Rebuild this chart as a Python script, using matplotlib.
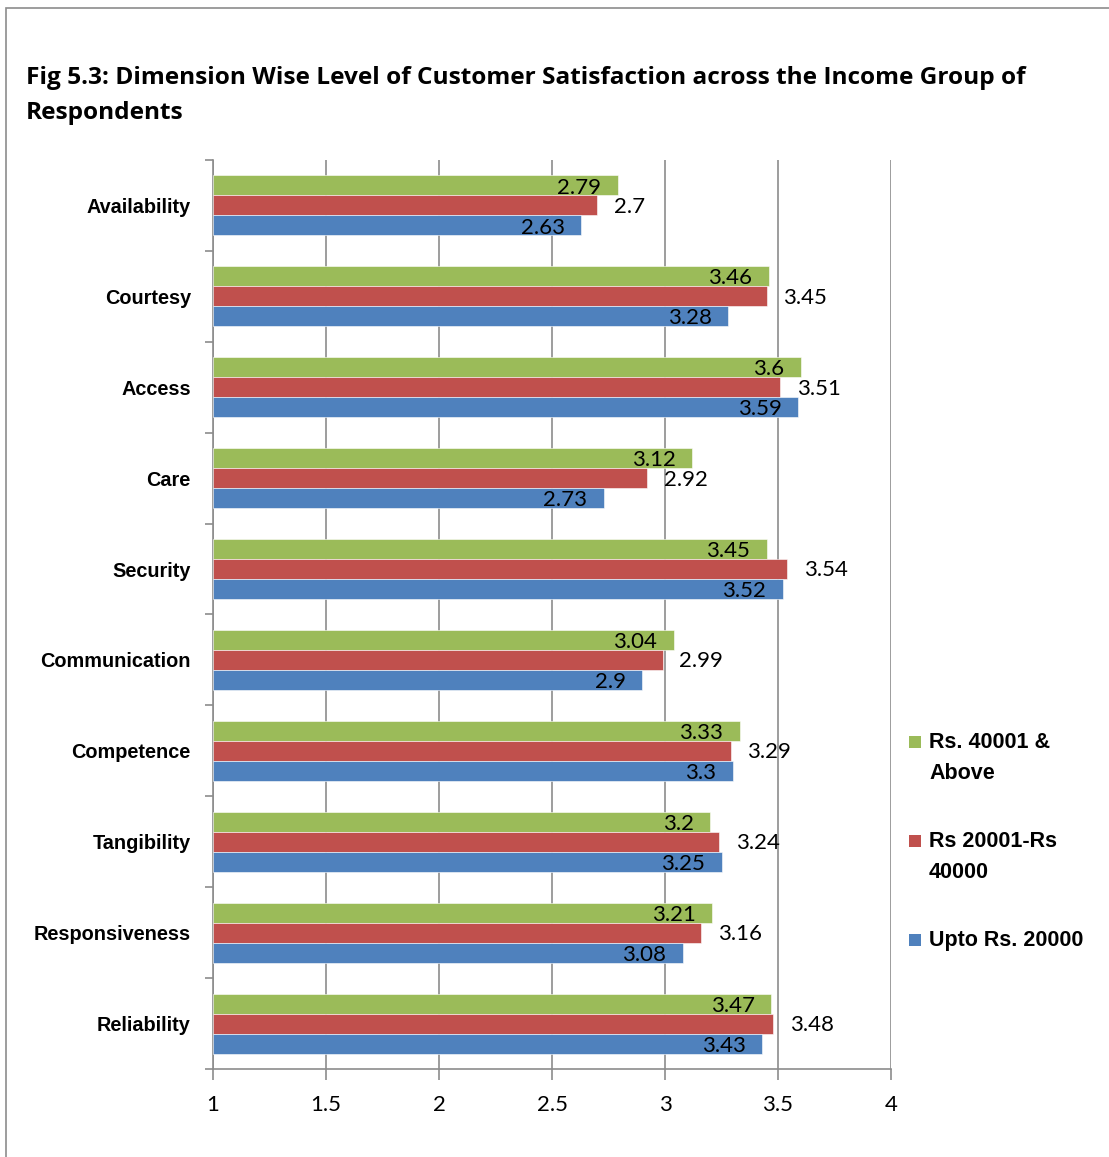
import matplotlib.pyplot as plt
import numpy as np
from matplotlib.patches import Rectangle
from matplotlib.ticker import FixedLocator

# 各维度（自上而下）
dimensions = ['Availability', 'Courtesy', 'Access', 'Care', 'Security',
              'Communication', 'Competence', 'Tangibility', 'Responsiveness',
              'Reliability']
above_40001 = [2.79, 3.46, 3.6, 3.12, 3.45, 3.04, 3.33, 3.2, 3.21, 3.47]
rs_20001_40000 = [2.7, 3.45, 3.51, 2.92, 3.54, 2.99, 3.29, 3.24, 3.16, 3.48]
upto_20000 = [2.63, 3.28, 3.59, 2.73, 3.52, 2.9, 3.3, 3.25, 3.08, 3.43]
series_names = ['Rs. 40001 & Above', 'Rs 20001-Rs 40000', 'Upto Rs. 20000']
legend_labels = ['Rs. 40001 &\nAbove', 'Rs 20001-Rs\n40000', 'Upto Rs. 20000']
x_ticks = [1, 1.5, 2, 2.5, 3, 3.5, 4]
colors = ['#9BBB59', '#C0504D', '#4F81BD']

label_font = ['Liberation Sans', 'DejaVu Sans']
num_font = ['Lato', 'DejaVu Sans']
title_font = ['Open Sans', 'DejaVu Sans']

fig = plt.figure(figsize=(11.09, 11.57), dpi=100)
# 外框
fig.patches.append(Rectangle((6 / 1109, -0.01), 1.2, 1 - 8 / 1157 + 0.01,
                             transform=fig.transFigure, fill=False,
                             edgecolor='#8c8c8c', linewidth=1.2))

fig.text(26 / 1109, 1 - 66 / 1157,
         'Fig 5.3: Dimension Wise Level of Customer Satisfaction across the Income Group of\nRespondents',
         fontsize=17.6, fontweight='bold', family=title_font, va='top', ha='left',
         linespacing=1.6)

ax = fig.add_axes([213 / 1109, 1 - 1069 / 1157, (891 - 213) / 1109, (1069 - 160) / 1157])

y = np.arange(len(dimensions))
h = 0.22
offsets = [-h, 0, h]
all_vals = [above_40001, rs_20001_40000, upto_20000]

for vals, off, c, name in zip(all_vals, offsets, colors, series_names):
    ax.barh(y + off, np.array(vals) - 1, left=1, height=h, color=c, label=name,
            edgecolor='white', linewidth=0.4, zorder=3)

# 数据标签：绿色、蓝色放在柱内末端，红色放在柱外
for i in range(len(dimensions)):
    for k, vals in enumerate(all_vals):
        v = vals[i]
        if k == 1:
            ax.annotate(f'{v:g}', (v, y[i] + offsets[k]), xytext=(12, -1),
                        textcoords='offset points', ha='left', va='center',
                        fontsize=16, family=num_font, zorder=5)
        else:
            ax.annotate(f'{v:g}', (v, y[i] + offsets[k]), xytext=(-12, -1.5),
                        textcoords='offset points', ha='right', va='center',
                        fontsize=16, family=num_font, zorder=5)

ax.set_xlim(1, 4)
ax.set_ylim(len(dimensions) - 0.5, -0.5)
ax.set_xticks(x_ticks)
ax.set_xticklabels([f'{t:g}' for t in x_ticks], family=num_font, fontsize=16)
ax.tick_params(axis='x', length=8, color='#8c8c8c', width=1.2, pad=11)

ax.set_yticks(y)
ax.set_yticklabels(dimensions, family=label_font, fontweight='bold', fontsize=14.3)
ax.yaxis.set_minor_locator(FixedLocator(np.arange(-0.5, len(dimensions), 1)))
ax.tick_params(axis='y', which='major', length=0, pad=16)
ax.tick_params(axis='y', which='minor', length=6, color='#8c8c8c', width=1.2)

ax.grid(axis='x', color='#8c8c8c', linewidth=1.2, zorder=0)
ax.set_axisbelow(True)
for s in ['top', 'right']:
    ax.spines[s].set_visible(False)
for s in ['left', 'bottom']:
    ax.spines[s].set_color('#8c8c8c')
    ax.spines[s].set_linewidth(1.2)

# 图例
leg_y = [742, 841, 940]
for lab, c, ly in zip(legend_labels, colors, leg_y):
    yy = 1 - ly / 1157
    fig.patches.append(Rectangle((909 / 1109, yy - 6 / 1157), 12 / 1109, 12 / 1157,
                                 transform=fig.transFigure, facecolor=c,
                                 edgecolor='none'))
    fig.text(929 / 1109, yy + 10 / 1157, lab, family=label_font, fontweight='bold',
             fontsize=15.5, va='top', ha='left', linespacing=1.6)

fig.savefig('out.png', dpi=100, facecolor='white')
